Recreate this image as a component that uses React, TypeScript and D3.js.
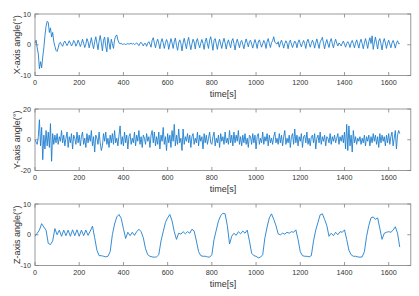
import React, { useEffect } from 'react';
import * as d3 from 'd3';

// ---- data ----
const X_STEP = 5; // seconds between samples
const xAngle = [
  0.5, 1.5, -1, -3, -7.8, -5.5, -7.5, -4, -1, 3, 6, 7.6, 7.3, 4, 5.5, 2.5, 4, 1, -0.5, -1.8,
  -2.2, -1, 0.5, 0.8, 0, -0.5, 0.6, 1.2, 0.4, -0.3, 0.5, 1.3, 0.5, -0.4, 0.2, 1.4, 0.8, -0.5, 0.3, 1.5,
  0.6, -0.6, 0.4, 1.8, 0.5, -0.9, 0.2, 2, 1, -1, 0.5, 2.3, 0.2, -1.3, 1, 2.6, 0.5, -1.6, 1.2, 3,
  0.8, -2, 1.5, 2.5, -0.5, -2.3, 2.4, 0.5, -1.5, 1.8, 0.3, -1.2, 1.6, 2.8, 3.2, 1.5, 0.6, 0.3, 0.5, 0.1,
  0.2, 0.3, 0.1, 0.2, 0.4, 0.2, 0.3, 0.5, 0.2, 0.4, 0.1, 0.3, 0.6, 0.2, -0.3, 0.5, 0.8, 0.2, -0.4, 0.4,
  0.4, -0.5, 0.5, 1, 0.2, -0.8, 1.5, 2.3, 0.5, -1, 0.8, 1.8, 0.4, -1.3, 0.8, 2, 0.6, -1.2, 0.5, 1.7,
  0.8, -1.5, 0.3, 2, 0.6, -1.2, 1, 2.2, -0.2, -1.8, 0.6, 1.6, 0.4, -2, 0.6, 2.1, 0.3, -1.3, 1, 2.4,
  0.2, -1.6, 0.3, 1.8, 0.9, -1.4, 1.2, 2, 0.2, -1, 0.5, 1.7, 0.4, -1.5, 1, 2.2, 0.3, -1.2, 1.5, 2.6,
  0.5, -1.8, 1.4, 2, 0.3, -1.5, 0.6, 1.8, 0.2, -1.2, 0.8, 2.1, 0.6, -1.4, 0.5, 1.6, 0.2, -1, 1.2, 2,
  0.4, -1.7, 0.6, 1.8, 0.5, -1, 0.8, 1.4, 0.1, -1.3, 0.5, 1.9, 0.7, -0.7, 1, 1.5, 0.2, -1.1, 0.4, 1.7,
  0.5, -1.2, 0.9, 1.6, 0.4, -0.8, 0.3, 1.4, 0.6, -1.2, 1, 2, 0.4, -0.9, 0.7, 1.3, 2.6, 0.8, 0.5, 0.2,
  1, -0.8, 0.6, 1.5, 0.3, -1.1, 0.4, 1.3, 0.5, -1.3, 0.7, 1.5, 0.2, -0.9, 0.2, 1.2, 0.6, -1, 0.8, 1.6,
  0.3, -0.7, 0.5, 1.4, 0.4, -1.2, 0.9, 1.8, 0.5, -0.8, 0.4, 1.5, 0.6, -1.1, 0.6, 1.9, 0.3, -1.2, 0.9, 1.6,
  2.4, 0.5, -1.3, 0.5, 1.7, 0.3, -0.9, 1.1, 2, 0.4, -1, 0.7, 1.8, 0.5, -0.4, 0.6, 0.2, -0.4, 0.5, 1.2,
  0.2, -0.8, 0.4, 1, 0.3, -0.9, 0.6, 1.4, 0.4, -1, 0.5, 1.6, 0.3, -1.1, 0.8, 1.8, 0.4, -1.3, 0.5, 2,
  0.6, -1.2, 1, 2.3, 0.4, 2.9, -1.5, 0.6, 2.5, 0.5, -1.4, 1.2, 2, 0.3, -1.7, 0.8, 2, 0.6, -1.2, 0.5,
  1.5, 0.2, -1, 0.6, 1.4, 0.4, -1.1, 0.5, 1.3, 0.3, 0.4,
];

const Y_STEP = 5;
const yAngle = [
  0, -1.5, -3, 2, 13, -4, 8, -13, 3, -6, 6, -4, 5, -5, 10.5, -14, 4, -3, 3, -2,
  4, -3, 2, -1, 6, -2, 3, -4, 1, 5, -5, 2, -2, 4, -6, 3, 1, -3, 5, -2,
  3, -4, 2, 5, -3, 1, -5, 4, -2, 3, -1, 6, -4, 2, -8, 3, 1, -3, 5, -2,
  -7, -4, 4, -1, 5, -3, 1, -5, 3, -2, 4, -3, 6, -2, 1, -4, 3, 9, -3, 2,
  -4, 5, -2, 3, -6, 2, 4, -3, 1, -2, 5, -4, 3, -1, 6, -3, 2, -5, 3, 1,
  -3, 4, -1, 2, -5, 3, 6, -2, 5, -4, 2, -3, 5, -6, 3, -1, 8, -3, 2, -7,
  4, -2, 3, -5, 6, -1, 10, -4, 3, -3, 7, -2, 1, -7, 7, -3, 2, -1, 4, -2,
  3, -5, 2, 4, -3, 1, -2, 5, -4, 3, -1, 2, -6, 4, -2, 3, -3, 1, 5, -2,
  -3, 2, 5, -4, 1, -2, 3, -5, 4, -1, 2, -3, 5, -2, 1, -3, 6, -2, 3, -4,
  5, -2, 3, -1, 6, -3, 2, -4, 3, -2, 4, -3, 1, -5, 3, 2, -3, 4, -2, 3,
  -6, 2, 4, -3, 1, -2, 5, -3, 2, -1, 4, -4, 3, -2, 1, -3, 2, 5, -2, 1,
  -3, 4, -2, 3, -4, 2, 6, -3, 1, -2, 3, -5, 2, 4, -3, 7, -2, 3, -4, 2,
  -1, 4, -5, 2, 3, -2, 5, -3, 1, -4, 2, 3, -2, 4, -6, 1, 3, -2, 5, -3,
  2, -1, 3, -4, 2, 1, -2, 4, -3, 2, -1, 3, -2, 1, 4, -3, 2, -1, 3, -2,
  5, -6, 10, -7, 9, -4, 3, -8, 6, -2, 2, -3, 1, -1, 2, -3, 1, -2, 3, -4,
  2, -1, 3, -4, 2, -2, 4, -1, 3, -3, 2, -5, 4, -2, 3, -1, 2, -4, 3, -2,
  4, -3, 2, 5, -4, 1, 6, -6, 3, 6, 4,
];

const Z_STEP = 10;
const zAngle = [
  -0.5, 0.5, 1.5, 3.6, 2.5, 1.5, -2.8, -3.2, -2, 2,
  0, 1.5, -0.5, 1.5, -0.3, 1.5, -0.5, 1.6, -0.3, 1.6,
  -0.5, 1.5, -0.3, 1.5, -0.2, 1.2, 2.8, -1, -5, -6.8,
  -6.8, -7, -7.2, -7, -5.5, 0, 3.5, 5.8, 6.6, 5.3,
  2, -1.2, 0.8, -0.3, 0.8, -0.2, 1, 1.8, 1, -1,
  -4.5, -6.5, -7, -7.2, -7.3, -7.2, -6.5, -2, 1, 4,
  5.5, 6.6, 4.5, 1, -1.5, 0.5, 0.2, 1, 0.3, 1,
  0.5, 1.8, 1.2, -2, -5.5, -6.8, -7, -7, -7.2, -7.3,
  -6.5, -1.5, 1.5, 4.5, 6.2, 7, 6.8, 3, -3, -0.5,
  0.5, -0.2, 1, 0.3, 1.2, 0.5, 1.5, -2, -6, -6.8,
  -7, -7.5, -7.3, -6.5, -1, 2.5, 5.5, 6.8, 5, 3,
  0.3, 0, 0.5, 0.2, 0.8, 0.5, 1, 0.8, 1.6, -1.5,
  -5.5, -6.8, -7, -7, -7.2, -6.8, -2, 1.5, 4, 6.5,
  6.8, 5, 3, -0.5, 0.5, -0.3, 0.8, 0, 1, 0.8,
  1.6, -1.5, -5, -6.5, -7, -7, -7.2, -7.3, -7.2, -5.5,
  -0.5, 3, 5.5, 5.8, 5, 5.5, 2, -1.5, 0.5, 0.8,
  1, 0.8, 1.5, 2.6, 0.5, -4,
];

const timeTicks = [0, 200, 400, 600, 800, 1000, 1200, 1400, 1600];
const panelLabels = ['X-axis angle(°)', 'Y-axis angle(°)', 'Z-axis angle(°)'];
const panelTicks = [
  [-10, 0, 10],
  [-20, 0, 20],
  [-10, 0, 10],
];
const xLabel = 'time[s]';

// ---- layout ----
const W = 419;
const H = 296;
const LEFT = 35;
const RIGHT = 410.8;
const TOPS = [14, 109, 204];
const PH = 61.5;
const TICK = 3.5;
const LINE = '#1f7fce';
const AXIS = '#808080';
const TEXT = '#333333';
const FONT = 'Liberation Sans, Arial, Helvetica, sans-serif';

const series = [
  { values: xAngle, step: X_STEP },
  { values: yAngle, step: Y_STEP },
  { values: zAngle, step: Z_STEP },
];

function Panel({ idx }: { idx: number }) {
  const top = TOPS[idx];
  const bottom = top + PH;
  const ticks = panelTicks[idx];
  const x = d3.scaleLinear().domain([0, 1700]).range([LEFT, RIGHT]);
  const y = d3.scaleLinear().domain([ticks[0], ticks[2]]).range([bottom, top]);
  const { values, step } = series[idx];
  const pts: [number, number][] = values.map((v, i) => [i * step, v]);
  const line = d3
    .line<[number, number]>()
    .x((d) => x(d[0]))
    .y((d) => y(d[1]));
  const midY = (top + bottom) / 2;
  return (
    <g>
      <path d={line(pts) || ''} fill="none" stroke={LINE} strokeWidth={0.9} strokeLinejoin="round" />
      <rect x={LEFT} y={top} width={RIGHT - LEFT} height={PH} fill="none" stroke={AXIS} strokeWidth={0.8} />
      {timeTicks.map((t) => (
        <g key={t}>
          <line x1={x(t)} x2={x(t)} y1={bottom} y2={bottom - TICK} stroke={AXIS} strokeWidth={0.8} />
          <line x1={x(t)} x2={x(t)} y1={top} y2={top + TICK} stroke={AXIS} strokeWidth={0.8} />
          <text x={x(t)} y={bottom + 9.2} fontSize={7.2} textAnchor="middle" fill={TEXT} fontFamily={FONT}>
            {t}
          </text>
        </g>
      ))}
      {ticks.map((v) => (
        <g key={v}>
          <line x1={LEFT} x2={LEFT + TICK} y1={y(v)} y2={y(v)} stroke={AXIS} strokeWidth={0.8} />
          <line x1={RIGHT} x2={RIGHT - TICK} y1={y(v)} y2={y(v)} stroke={AXIS} strokeWidth={0.8} />
          <text x={31} y={y(v) + 2.6} fontSize={7.2} textAnchor="end" fill={TEXT} fontFamily={FONT}>
            {v}
          </text>
        </g>
      ))}
      <text
        x={0}
        y={0}
        transform={`translate(19.5,${midY}) rotate(-90)`}
        fontSize={9}
        textAnchor="middle"
        fill={TEXT}
        fontFamily={FONT}
      >
        {panelLabels[idx]}
      </text>
      <text x={(LEFT + RIGHT) / 2} y={bottom + 21.5} fontSize={9} textAnchor="middle" fill={TEXT} fontFamily={FONT}>
        {xLabel}
      </text>
    </g>
  );
}

export default function App() {
  useEffect(() => {
    document.body.style.margin = '0';
  }, []);
  return (
    <svg
      width={W}
      height={H}
      viewBox={`0 0 ${W} ${H}`}
      style={{ position: 'absolute', left: 0, top: 0, background: '#fff', display: 'block' }}
    >
      <rect x={0} y={0} width={W} height={H} fill="#fff" />
      {[0, 1, 2].map((i) => (
        <Panel key={i} idx={i} />
      ))}
    </svg>
  );
}
